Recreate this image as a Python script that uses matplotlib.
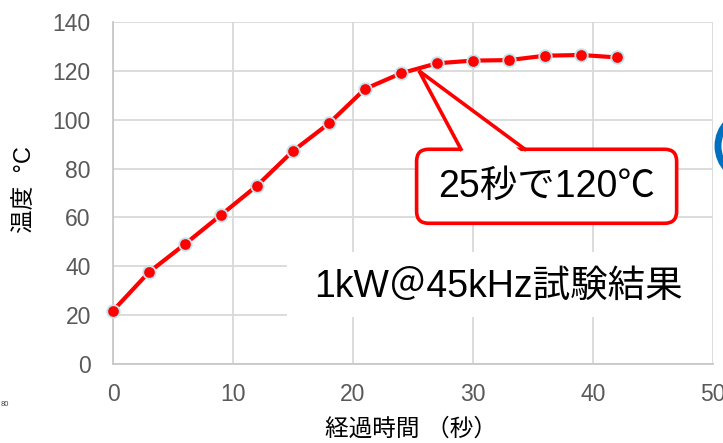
import matplotlib
matplotlib.use("Agg")
import matplotlib.pyplot as plt
import matplotlib.patches as patches
import numpy as np

plt.rcParams['font.family'] = ['Liberation Sans', 'Noto Sans CJK JP', 'DejaVu Sans']

# heating curve, 1 kW @ 45 kHz
elapsed_s = [0, 3, 6, 9, 12, 15, 18, 21, 24, 27, 30, 33, 36, 39, 42]
temp_c = [21.8, 37.6, 49.1, 61.0, 73.0, 87.2, 98.5, 112.6, 119.0,
          123.1, 124.2, 124.4, 126.2, 126.5, 125.5]

x_ticks = [0, 10, 20, 30, 40, 50]
y_ticks = [0, 20, 40, 60, 80, 100, 120, 140]

callout_text = '25秒で120℃'
callout_at = (25.5, 120)
result_text = '1kW＠45kHz試験結果'

W, H = 723, 443
fig = plt.figure(figsize=(W / 100, H / 100), dpi=100)
ax = fig.add_axes([113 / W, 1 - 364 / H, 600 / W, 342 / H])

grid_col = '#d9d9d9'
ax.set_xlim(0, 50)
ax.set_ylim(0, 140)
ax.set_xticks(x_ticks)
ax.set_yticks(y_ticks)
ax.grid(True, color=grid_col, linewidth=1.3)
ax.set_axisbelow(True)
for side in ['top', 'right']:
    ax.spines[side].set_visible(False)
for side in ['left', 'bottom']:
    ax.spines[side].set_color('#c8c8c8')
    ax.spines[side].set_linewidth(1.3)
ax.tick_params(length=0, labelsize=16.5, labelcolor='#595959')
ax.tick_params(axis='y', pad=16)
ax.tick_params(axis='x', pad=14)

ax.plot(elapsed_s, temp_c, color='#ff0000', linewidth=3, marker='o',
        markersize=9, markerfacecolor='#ff0000', markeredgecolor='#bfe3ea',
        markeredgewidth=1.3, zorder=4, clip_on=False)

# white panel behind the result text
ax.add_patch(patches.Rectangle((14.5, 19.2), 35.4, 26.6, facecolor='white',
                               edgecolor='none', zorder=1.5))
ax.text(32.1, 31.5, result_text, fontsize=27, ha='center', va='center',
        color='black', zorder=2)

# callout box with pointer
px_x, px_y = 600 / 50, 342 / 140
box_l, box_r, box_b, box_t = 25.3, 46.97, 57.6, 87.9
box = patches.FancyBboxPatch((box_l, box_b), box_r - box_l, box_t - box_b,
                             boxstyle='round,pad=0,rounding_size=1.0',
                             mutation_aspect=px_x / px_y,
                             facecolor='white', edgecolor='#ff0000',
                             linewidth=2.6, zorder=5)
ax.add_patch(box)
b1, b2 = 29.0, 34.33
ax.add_patch(patches.Polygon([(b1 + 0.15, box_t - 1.5), (b2 - 0.15, box_t - 1.5),
                              callout_at], closed=True, facecolor='white',
                             edgecolor='none', zorder=6))
ax.plot([b1, callout_at[0], b2], [box_t, callout_at[1], box_t], color='#ff0000',
        linewidth=2.6, solid_joinstyle='miter', zorder=7)
ax.text((box_l + box_r) / 2, (box_t + box_b) / 2 - 0.3, callout_text,
        fontsize=27, ha='center', va='center', color='black', zorder=8)

# axis titles
fig.text(411 / W, 1 - 430 / H, '経過時間 （秒）', fontsize=17, ha='center',
         va='center', color='black')
fig.text(25 / W, 1 - 190 / H, '温度  °C', fontsize=17, ha='center',
         va='center', rotation=90, color='black')

# overlay in pixel units for the edge decorations
ov = fig.add_axes([0, 0, 1, 1], zorder=-1)
ov.set_xlim(0, W)
ov.set_ylim(H, 0)
ov.axis('off')
ov.add_patch(patches.Circle((752, 146), 34, facecolor='none',
                            edgecolor='#0070c0', linewidth=5))
ov.text(5, 405, '80', fontsize=5.5, ha='center', va='center', color='#404040')

fig.savefig('out.png', dpi=100)
